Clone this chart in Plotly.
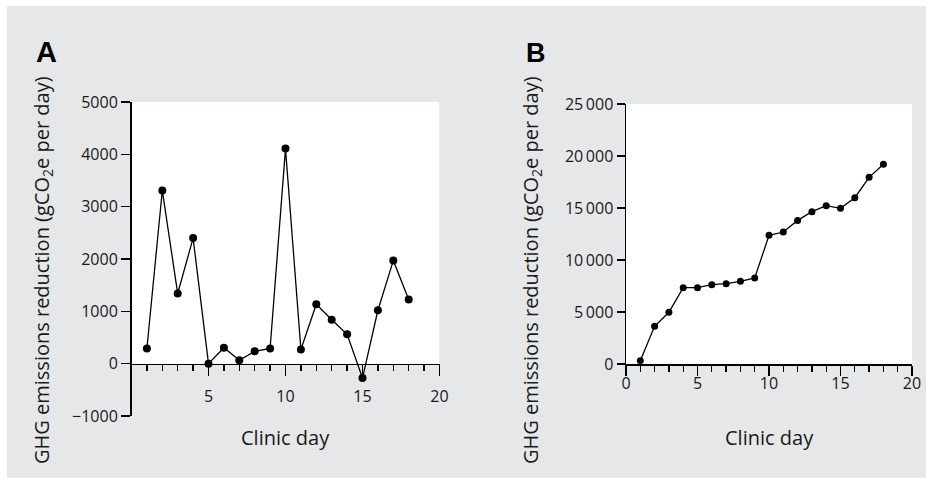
import plotly.graph_objects as go

# ---- data ----
days = list(range(1, 19))
daily_reduction = [290, 3310, 1340, 2400, 0, 305, 65, 235, 290, 4110,
                   270, 1135, 840, 560, -275, 1020, 1970, 1225]
cumulative_reduction = [320, 3620, 4970, 7340, 7340, 7630, 7720, 7950, 8270, 12370,
                        12690, 13810, 14650, 15220, 14970, 15990, 17950, 19200]

a_y_vals = [-1000, 0, 1000, 2000, 3000, 4000, 5000]
a_y_text = ["\u22121000", "0", "1000", "2000", "3000", "4000", "5000"]
b_y_vals = [0, 5000, 10000, 15000, 20000, 25000]
b_y_text = ["0", "5\u2009000", "10\u2009000", "15\u2009000", "20\u2009000", "25\u2009000"]
a_x_vals = [5, 10, 15, 20]
b_x_vals = [0, 5, 10, 15, 20]

y_title = "GHG emissions reduction (gCO<sub>2</sub>e per day)"
x_title = "Clinic day"
panel_labels = ["A", "B"]

# ---- layout geometry ----
W, H = 926, 478
def fx(px):
    return px / W
def fy(py):
    return (H - py) / H

A_X = [fx(131.5), fx(439.5)]
A_Y = [fy(416), fy(102)]
B_X = [fx(626), fx(912)]
B_Y = [fy(364), fy(104)]
a_yrange = [-1000, 5000]
b_yrange = [0, 25000]
a_xaxis_pos = A_Y[0] + (0 - a_yrange[0]) / (a_yrange[1] - a_yrange[0]) * (A_Y[1] - A_Y[0])

TICK_FONT = dict(family="Open Sans, Noto Sans, sans-serif", size=16, color="#1a1a1a")
TITLE_FONT = dict(family="Open Sans, Noto Sans, sans-serif", size=20, color="#1a1a1a")
GRAY = "#e6e7e8"

fig = go.Figure()
fig.add_trace(go.Scatter(x=days, y=daily_reduction, mode="lines+markers",
                         line=dict(color="black", width=1.3),
                         marker=dict(color="black", size=8),
                         xaxis="x", yaxis="y", hoverinfo="skip"))
fig.add_trace(go.Scatter(x=days, y=cumulative_reduction, mode="lines+markers",
                         line=dict(color="black", width=1.3),
                         marker=dict(color="black", size=7),
                         xaxis="x2", yaxis="y2", hoverinfo="skip"))

common_axis = dict(showgrid=False, zeroline=False, showline=True, linecolor="black",
                   linewidth=1.5, ticks="outside", tickcolor="black", tickwidth=1.3,
                   tickfont=TICK_FONT, fixedrange=True, automargin=False)

fig.update_layout(
    template="none",
    width=W, height=H, margin=dict(l=0, r=0, t=0, b=0, pad=0, autoexpand=False),
    paper_bgcolor="white", plot_bgcolor="rgba(0,0,0,0)", showlegend=False,
    xaxis=dict(domain=A_X, range=[0, 20], anchor="free", position=a_xaxis_pos,
               tickmode="array", tickvals=a_x_vals, ticklen=11, ticklabelstandoff=7,
               minor=dict(dtick=1, tick0=0, ticklen=6, ticks="outside", tickcolor="black",
                          tickwidth=1.3, showgrid=False),
               **common_axis),
    yaxis=dict(domain=A_Y, range=a_yrange, anchor="x", tickmode="array",
               tickvals=a_y_vals, ticktext=a_y_text, ticklen=9, **common_axis),
    xaxis2=dict(domain=B_X, range=[0, 20], anchor="y2",
                tickmode="array", tickvals=b_x_vals, ticklen=10, ticklabelstandoff=-6,
                minor=dict(dtick=1, tick0=0, ticklen=6, ticks="outside", tickcolor="black",
                           tickwidth=1.3, showgrid=False),
                **common_axis),
    yaxis2=dict(domain=B_Y, range=b_yrange, anchor="x2", tickmode="array",
                tickvals=b_y_vals, ticktext=b_y_text, ticklen=8, **common_axis),
)

shapes = [
    dict(type="rect", xref="paper", yref="paper", x0=fx(7), x1=1, y0=0, y1=fy(6),
         fillcolor=GRAY, line=dict(width=0), layer="below"),
    dict(type="rect", xref="x", yref="y", x0=0, x1=20, y0=0, y1=a_yrange[1],
         fillcolor="white", line=dict(width=0), layer="below"),
    dict(type="rect", xref="x2", yref="y2", x0=0, x1=20, y0=0, y1=b_yrange[1],
         fillcolor="white", line=dict(width=0), layer="below"),
]
fig.update_layout(shapes=shapes)

annotations = [
    dict(text=panel_labels[0], x=fx(34), y=fy(52), xref="paper", yref="paper",
         xanchor="left", yanchor="middle", showarrow=False,
         font=dict(family="Liberation Sans, Arial, sans-serif", size=29, color="black", weight=900)),
    dict(text=panel_labels[1], x=fx(524), y=fy(53), xref="paper", yref="paper",
         xanchor="left", yanchor="middle", showarrow=False,
         font=dict(family="Liberation Sans, Arial, sans-serif", size=27, color="black", weight=900)),
    dict(text=x_title, x=(A_X[0] + A_X[1]) / 2, y=fy(437), xref="paper", yref="paper",
         xanchor="center", yanchor="middle", showarrow=False, font=TITLE_FONT),
    dict(text=x_title, x=(B_X[0] + B_X[1]) / 2, y=fy(437), xref="paper", yref="paper",
         xanchor="center", yanchor="middle", showarrow=False, font=TITLE_FONT),
    dict(text=y_title, x=fx(42), y=fy(270), xref="paper", yref="paper", textangle=-90,
         xanchor="center", yanchor="middle", showarrow=False, font=TITLE_FONT),
    dict(text=y_title, x=fx(531), y=fy(270), xref="paper", yref="paper", textangle=-90,
         xanchor="center", yanchor="middle", showarrow=False, font=TITLE_FONT),
]
fig.update_layout(annotations=annotations)

fig.write_html("out.html", config={"displayModeBar": False, "staticPlot": True},
               post_script="document.body.style.margin='0';document.body.style.padding='0';"
                           "document.body.style.overflow='hidden';")
